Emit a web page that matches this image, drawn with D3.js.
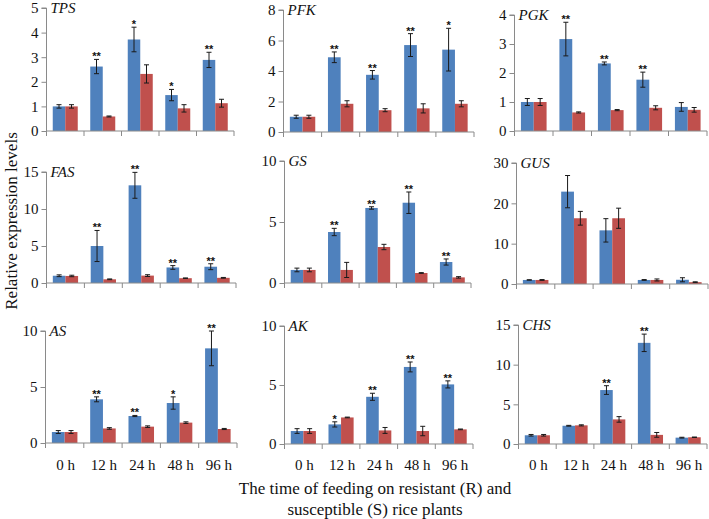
<!DOCTYPE html>
<html><head><meta charset="utf-8">
<script src="https://cdn.jsdelivr.net/npm/d3@7/dist/d3.min.js"></script>
<style>body{margin:0;background:#fff}svg{display:block}</style>
</head><body>
<svg id="chart" width="709" height="519"></svg>
<script>
// ---------- data ----------
const genes = ["TPS","PFK","PGK","FAS","GS","GUS","AS","AK","CHS"];
const timePoints = ["0 h","12 h","24 h","48 h","96 h"];
const seriesNames = ["R","S"];
const yMax  = [5, 8, 4, 15, 10, 30, 10, 10, 15];
const yStep = [1, 2, 1, 5, 5, 10, 5, 5, 5];

const resistantMean = [
  [1.0, 2.62, 3.72, 1.46, 2.89],
  [1.0, 4.9, 3.75, 5.7, 5.4],
  [1.0, 3.17, 2.33, 1.77, 0.83],
  [0.98, 5.0, 13.2, 2.1, 2.2],
  [1.07, 4.18, 6.15, 6.58, 1.72],
  [1.0, 22.9, 13.3, 1.0, 1.05],
  [0.98, 3.9, 2.41, 3.57, 8.45],
  [1.1, 1.66, 4.0, 6.53, 5.05],
  [1.1, 2.3, 6.8, 12.75, 0.8]
];
const resistantErr = [
  [0.07, 0.29, 0.5, 0.23, 0.31],
  [0.1, 0.35, 0.28, 0.75, 1.4],
  [0.12, 0.58, 0.05, 0.26, 0.15],
  [0.12, 2.1, 1.75, 0.25, 0.4],
  [0.15, 0.3, 0.1, 0.88, 0.25],
  [0.05, 4.0, 2.9, 0.1, 0.5],
  [0.13, 0.22, 0.05, 0.55, 1.55],
  [0.2, 0.22, 0.3, 0.42, 0.3],
  [0.1, 0.05, 0.55, 1.1, 0.05]
];
const susceptibleMean = [
  [1.0, 0.59, 2.32, 0.92, 1.13],
  [1.0, 1.85, 1.43, 1.55, 1.85],
  [1.0, 0.64, 0.72, 0.8, 0.73],
  [0.95, 0.5, 1.0, 0.65, 0.7],
  [1.07, 1.07, 2.95, 0.82, 0.46],
  [1.0, 16.3, 16.3, 1.0, 0.45],
  [0.98, 1.3, 1.46, 1.82, 1.25],
  [1.1, 2.25, 1.15, 1.1, 1.24],
  [1.1, 2.35, 3.1, 1.15, 0.85]
];
const susceptibleErr = [
  [0.07, 0.02, 0.37, 0.15, 0.16],
  [0.1, 0.2, 0.1, 0.3, 0.2],
  [0.12, 0.02, 0.02, 0.07, 0.08],
  [0.1, 0.05, 0.12, 0.03, 0.05],
  [0.15, 0.62, 0.22, 0.03, 0.06],
  [0.1, 1.7, 2.5, 0.25, 0.1],
  [0.13, 0.07, 0.07, 0.07, 0.05],
  [0.2, 0.03, 0.25, 0.4, 0.03],
  [0.1, 0.07, 0.35, 0.3, 0.03]
];
const significance = [
  ["", "**", "*", "*", "**"],
  ["", "**", "**", "**", "*"],
  ["", "**", "**", "**", ""],
  ["", "**", "**", "**", "**"],
  ["", "**", "**", "**", "**"],
  ["", "", "", "", ""],
  ["", "**", "**", "*", "**"],
  ["", "*", "**", "**", "**"],
  ["", "", "**", "**", ""]
];
const yTitle = "Relative expression levels";
const xTitle = ["The time of feeding on resistant (R) and", "susceptible (S) rice plants"];

// ---------- layout (pixels) ----------
const panelBox = [
  {x0: 46.5, x1: 234, top: 8,   bottom: 131},
  {x0: 283.5, x1: 474, top: 10, bottom: 132},
  {x0: 514.5, x1: 707, top: 15, bottom: 131},
  {x0: 46.5, x1: 236, top: 172, bottom: 283},
  {x0: 284.5, x1: 471, top: 161, bottom: 283},
  {x0: 516.5, x1: 708, top: 163, bottom: 284},
  {x0: 45.5, x1: 237, top: 331, bottom: 443},
  {x0: 284.5, x1: 473, top: 326, bottom: 444},
  {x0: 518.5, x1: 707, top: 325, bottom: 444}
];
const colors = {R: "#4F81BD", S: "#C0504D"};
const axisColor = "#8a8a8a";
const serif = "'Liberation Serif', 'Times New Roman', serif";

const svg = d3.select("#chart");

genes.forEach((gene, gi) => {
  const b = panelBox[gi];
  const g = svg.append("g");
  const x = d3.scaleBand().domain(timePoints).range([b.x0, b.x1]).paddingInner(0).paddingOuter(0);
  const xs = d3.scaleBand().domain(seriesNames).range([0, x.bandwidth()]).paddingInner(0).paddingOuter(0.5);
  const y = d3.scaleLinear().domain([0, yMax[gi]]).range([b.bottom, b.top]);

  const rows = timePoints.map((t, i) => ({
    t, i,
    vals: [
      {s: "R", m: resistantMean[gi][i], e: resistantErr[gi][i]},
      {s: "S", m: susceptibleMean[gi][i], e: susceptibleErr[gi][i]}
    ]
  }));

  // bars
  const grp = g.selectAll("g.cat").data(rows).enter().append("g")
    .attr("transform", d => `translate(${x(d.t)},0)`);
  grp.selectAll("rect").data(d => d.vals).enter().append("rect")
    .attr("x", d => xs(d.s)).attr("width", xs.bandwidth())
    .attr("y", d => y(d.m)).attr("height", d => y(0) - y(d.m))
    .attr("fill", d => colors[d.s]);

  // error bars
  grp.selectAll("path.err").data(d => d.vals).enter().append("path")
    .attr("d", d => {
      const cx = xs(d.s) + xs.bandwidth() / 2;
      const yt = y(d.m + d.e), yb = y(Math.max(0, d.m - d.e));
      return `M${cx},${yt}V${yb}M${cx-2.5},${yt}H${cx+2.5}M${cx-2.5},${yb}H${cx+2.5}`;
    })
    .attr("stroke", "#1a1a1a").attr("stroke-width", 1).attr("fill", "none");

  // significance stars
  grp.append("text")
    .attr("x", xs("R") + xs.bandwidth() / 2)
    .attr("y", d => y(d.vals[0].m + d.vals[0].e) + 1)
    .attr("text-anchor", "middle")
    .attr("font-family", "'Liberation Sans', Arial, sans-serif")
    .attr("font-size", 11).attr("font-weight", "bold").attr("fill", "#111")
    .text(d => significance[gi][d.i]);

  // y axis
  const yAxis = d3.axisLeft(y)
    .tickValues(d3.range(0, yMax[gi] + yStep[gi] / 2, yStep[gi]))
    .tickSize(5).tickPadding(3).tickFormat(d3.format("d"));
  const ya = g.append("g").attr("transform", `translate(${b.x0},0)`).call(yAxis);
  ya.select(".domain").attr("stroke", axisColor).attr("d", `M-5,${b.top}H0V${b.bottom}`);
  ya.selectAll(".tick line").attr("stroke", axisColor);
  ya.selectAll(".tick text").attr("font-family", serif).attr("font-size", 15).attr("fill", "#111");

  // x axis
  const bounds = timePoints.map(t => x(t)).concat([b.x1]);
  g.append("path")
    .attr("d", `M${b.x0},${b.bottom}H${b.x1}` + bounds.map(v => `M${v},${b.bottom}V${b.bottom + 5}`).join(""))
    .attr("stroke", axisColor).attr("fill", "none").attr("stroke-width", 1);

  if (gi >= 6) {
    g.selectAll("text.xl").data(timePoints).enter().append("text")
      .attr("x", d => x(d) + x.bandwidth() / 2 + 1)
      .attr("y", 470)
      .attr("text-anchor", "middle")
      .attr("font-family", serif).attr("font-size", 15).attr("fill", "#111")
      .text(d => d);
  }

  // gene label
  g.append("text")
    .attr("x", b.x0 + 4).attr("y", b.top + 4.5)
    .attr("font-family", serif).attr("font-style", "italic").attr("font-size", 15).attr("fill", "#111")
    .text(gene);
});

// titles
svg.append("text")
  .attr("transform", "translate(17,221) rotate(-90)")
  .attr("text-anchor", "middle")
  .attr("font-family", serif).attr("font-size", 17).attr("fill", "#111")
  .text(yTitle);

svg.selectAll("text.xt").data(xTitle).enter().append("text")
  .attr("x", 375).attr("y", (d, i) => 494 + i * 21)
  .attr("text-anchor", "middle")
  .attr("font-family", serif).attr("font-size", 17).attr("fill", "#111")
  .text(d => d);
</script>
</body></html>
